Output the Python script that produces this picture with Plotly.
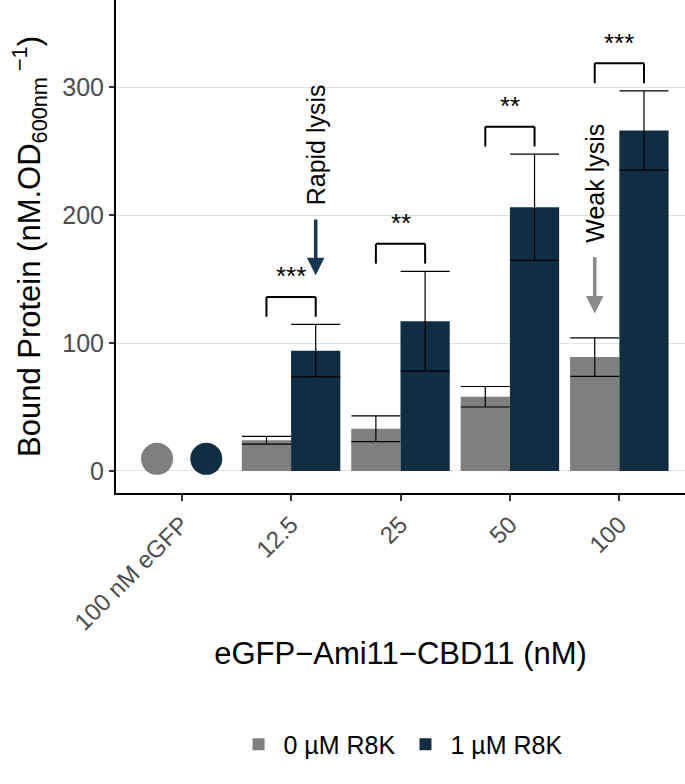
import plotly.graph_objects as go

# ---- data ----
categories = ["100 nM eGFP", "12.5", "25", "50", "100"]
concentrations = ["12.5", "25", "50", "100"]
r8k0_mean = [24, 33, 58, 89]
r8k0_err = [3, 10, 8, 15]
r8k1_mean = [94, 117, 206, 266]
r8k1_err = [20.5, 39, 41.5, 31]
egfp_label = ["100 nM eGFP"]
egfp_r8k0 = [9.5]
egfp_r8k1 = [9.5]
significance = ["***", "**", "**", "***"]
series_names = ["0 µM R8K", "1 µM R8K"]

GRAY = "#7F7F7F"
DARK = "#112D42"
FONT = "Liberation Sans, Arial, sans-serif"

fig = go.Figure()

err_style = dict(type="data", visible=True, color="black", thickness=1.2, width=24.5)

fig.add_trace(go.Bar(
    x=concentrations, y=r8k0_mean, name=series_names[0], marker_color=GRAY,
    marker_line_width=0, offsetgroup="a",
    error_y=dict(array=r8k0_err, **err_style),
))
fig.add_trace(go.Bar(
    x=concentrations, y=r8k1_mean, name=series_names[1], marker_color=DARK,
    marker_line_width=0, offsetgroup="b",
    error_y=dict(array=r8k1_err, **err_style),
))
fig.add_trace(go.Scatter(
    x=egfp_label, y=egfp_r8k0, mode="markers", offsetgroup="a",
    marker=dict(color=GRAY, size=32, line_width=0), showlegend=False,
))
fig.add_trace(go.Scatter(
    x=egfp_label, y=egfp_r8k1, mode="markers", offsetgroup="b",
    marker=dict(color=DARK, size=32, line_width=0), showlegend=False,
))

# significance brackets
half = 0.225
shapes = []
annotations = []
for i, (m, e, s) in enumerate(zip(r8k1_mean, r8k1_err, significance)):
    xi = categories.index(concentrations[i])
    top_err = m + e
    leg = top_err + 6
    top = top_err + 21.5
    x0, x1 = xi - half, xi + half
    line = dict(color="black", width=2)
    shapes.append(dict(type="line", xref="x", yref="y", x0=x0, x1=x0, y0=leg, y1=top, line=line))
    shapes.append(dict(type="line", xref="x", yref="y", x0=x0, x1=x1, y0=top, y1=top, line=line))
    shapes.append(dict(type="line", xref="x", yref="y", x0=x1, x1=x1, y0=leg, y1=top, line=line))
    annotations.append(dict(x=xi, y=top + 16, xref="x", yref="y", text=s, showarrow=False,
                            font=dict(family=FONT, size=26, color="black"), yanchor="middle"))

# lysis arrows (text at tail, arrow pointing down to the bar)
rapid_x = categories.index("12.5") + half
weak_x = categories.index("100") - half
annotations += [
    dict(x=rapid_x, y=153, ax=rapid_x, ay=255, xref="x", yref="y", axref="x", ayref="y",
         text="Rapid lysis", textangle=-90, showarrow=True, arrowhead=2, arrowsize=1,
         arrowwidth=3.5, arrowcolor="#15374F", borderpad=14,
         font=dict(family=FONT, size=25, color="black")),
    dict(x=weak_x, y=123, ax=weak_x, ay=225, xref="x", yref="y", axref="x", ayref="y",
         text="Weak lysis", textangle=-90, showarrow=True, arrowhead=2, arrowsize=1,
         arrowwidth=3.5, arrowcolor="#8A8A8A", borderpad=14,
         font=dict(family=FONT, size=25, color="black")),
]

fig.update_layout(
    width=685, height=784,
    margin=dict(l=116, r=0, t=0, b=291, autoexpand=False),
    paper_bgcolor="white", plot_bgcolor="white",
    barmode="group", bargap=0.1, bargroupgap=0,
    scattermode="group", scattergap=0.1,
    font=dict(family=FONT, size=22, color="black"),
    shapes=shapes, annotations=annotations,
    legend=dict(orientation="h", x=0.5, xanchor="center", y=-0.51, yanchor="middle",
                font=dict(family=FONT, size=25, color="black"), itemwidth=40,
                traceorder="normal"),
    showlegend=True,
)
fig.update_xaxes(
    type="category", categoryorder="array", categoryarray=categories,
    range=[-0.6, 4.6], automargin=False,
    showline=True, linecolor="black", linewidth=2,
    ticks="outside", ticklen=6, tickwidth=1.5, tickcolor="#333333",
    tickangle=-45, tickfont=dict(family=FONT, size=24, color="#4D4D4D"),
    showgrid=False, zeroline=False,
    title=dict(text="eGFP\u2212Ami11\u2212CBD11 (nM)", font=dict(family=FONT, size=31, color="black"), standoff=8),
)
fig.update_yaxes(
    range=[-17.2, 368], automargin=False,
    tickvals=[0, 100, 200, 300],
    showline=True, linecolor="black", linewidth=2,
    ticks="outside", ticklen=5, tickwidth=1.5, tickcolor="#333333",
    tickfont=dict(family=FONT, size=25, color="#4D4D4D"),
    showgrid=True, gridcolor="#E3E3E3", gridwidth=1, zeroline=False,
    title=dict(text="Bound Protein (nM.OD<sub>600nm</sub><sup> \u22121</sup>)",
               font=dict(family=FONT, size=31, color="black"), standoff=12),
)

fig.write_html("out.html", config={"displayModeBar": False},
               post_script="document.body.style.margin='0';")
